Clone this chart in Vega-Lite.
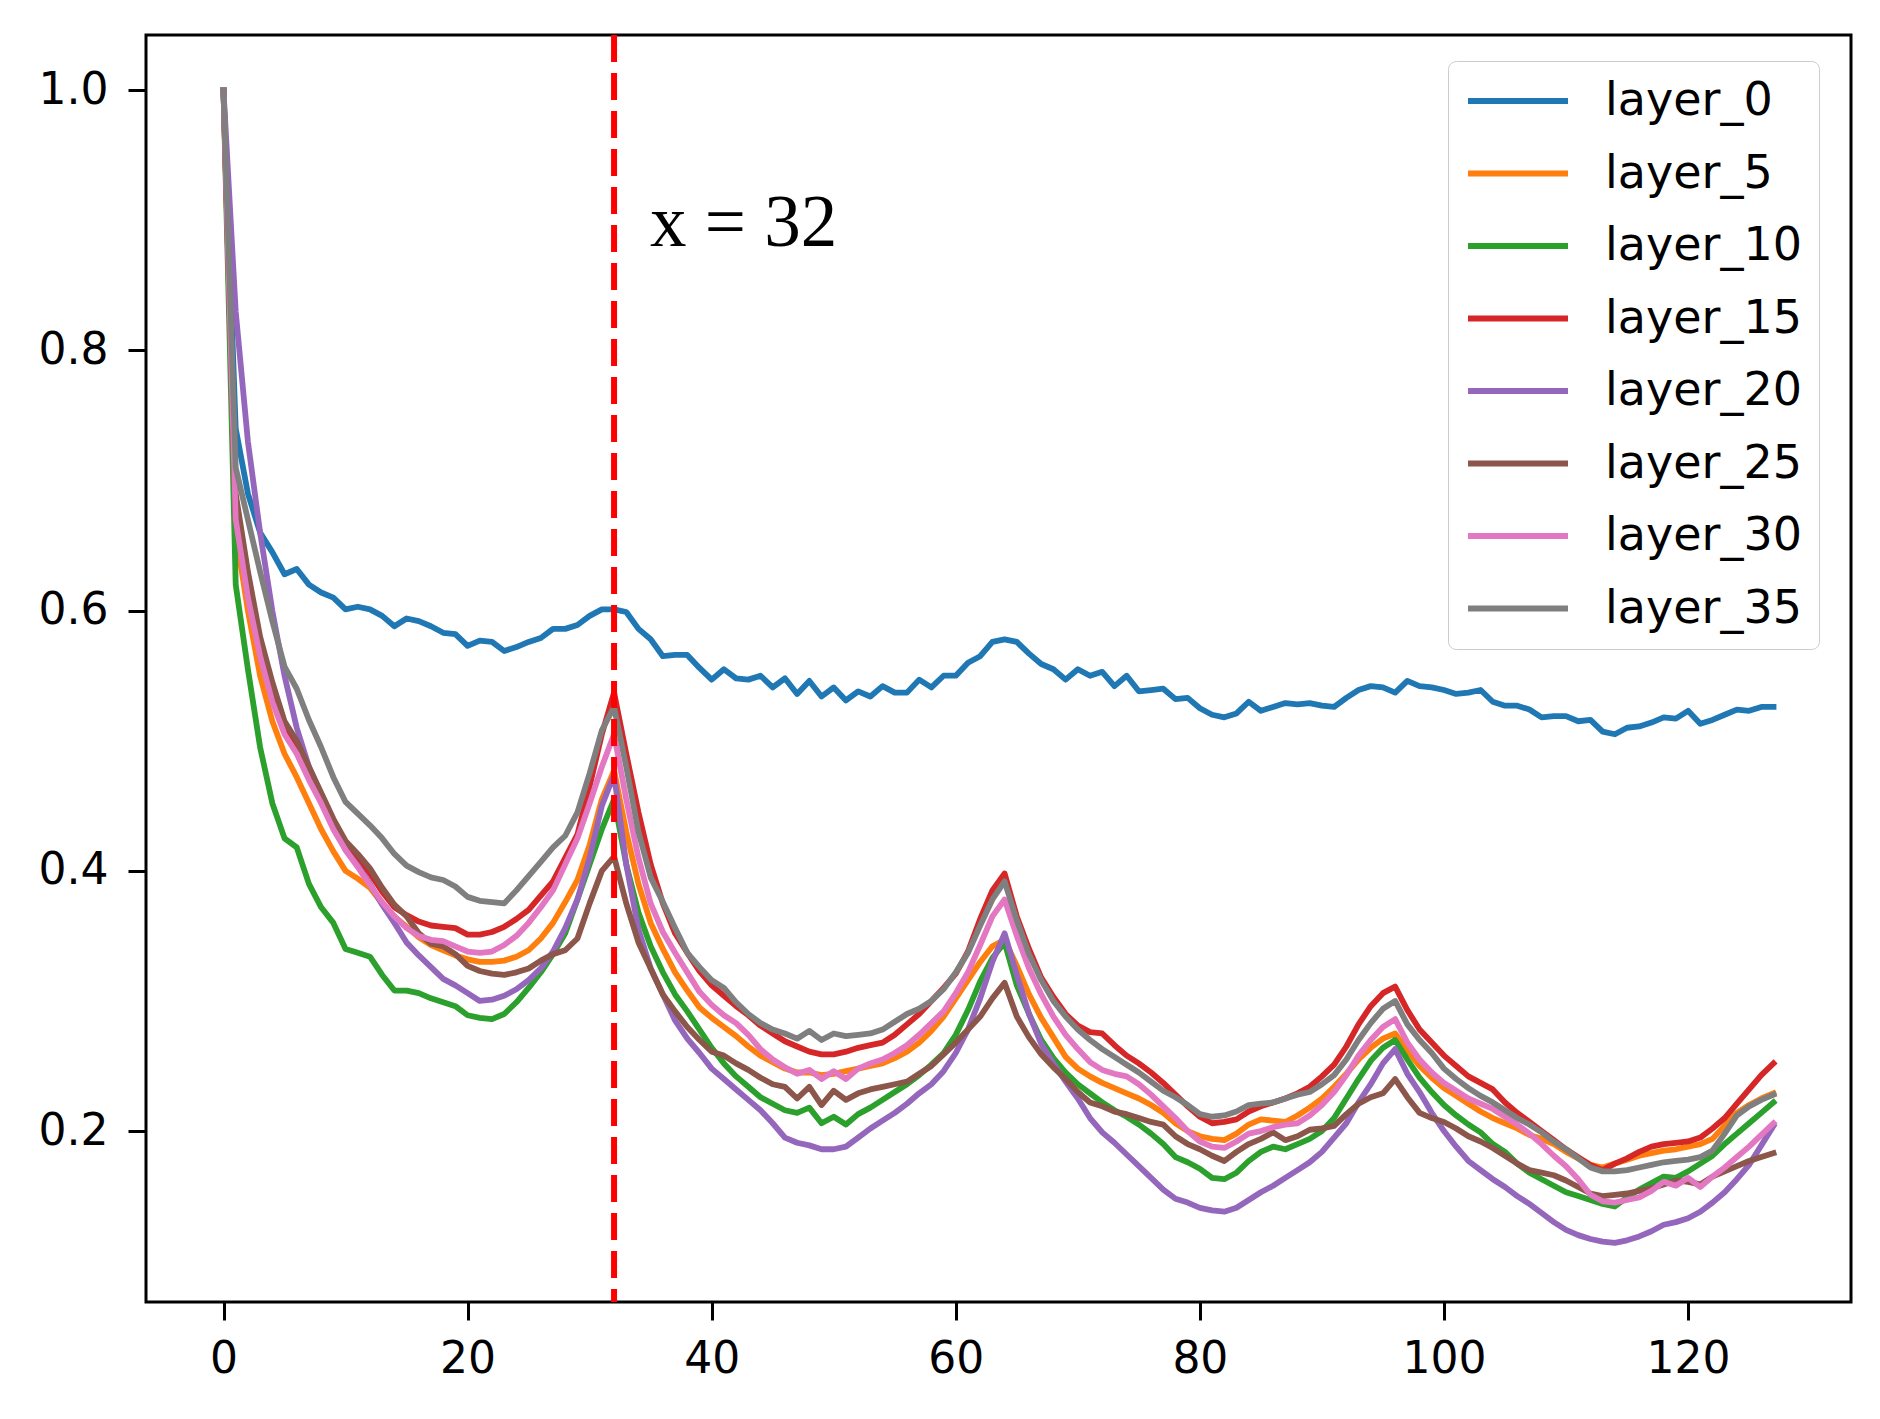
{
  "$schema": "https://vega.github.io/schema/vega-lite/v6.json",
  "width": 1705,
  "height": 1267,
  "autosize": {"type": "none"},
  "padding": {"left": 146, "top": 35, "right": 29, "bottom": 117},
  "background": "white",
  "config": {
    "view": {"stroke": "black", "strokeWidth": 3},
    "axis": {
      "domain": false, "grid": false,
      "tickColor": "black", "tickWidth": 3, "tickSize": 18,
      "labelFont": "DejaVu Sans", "labelFontSize": 44, "labelColor": "black"
    }
  },
  "layer": [
    {
      "data": {"values": [
        {"x":0,"layer_0":1,"layer_5":1,"layer_10":1,"layer_15":1,"layer_20":1,"layer_25":1,"layer_30":1,"layer_35":1},
        {"x":1,"layer_0":0.74,"layer_5":0.66,"layer_10":0.62,"layer_15":0.67,"layer_20":0.83,"layer_25":0.69,"layer_30":0.67,"layer_35":0.71},
        {"x":2,"layer_0":0.69,"layer_5":0.6,"layer_10":0.555,"layer_15":0.615,"layer_20":0.73,"layer_25":0.63,"layer_30":0.61,"layer_35":0.67},
        {"x":3,"layer_0":0.66,"layer_5":0.55,"layer_10":0.495,"layer_15":0.57,"layer_20":0.66,"layer_25":0.58,"layer_30":0.565,"layer_35":0.63},
        {"x":4,"layer_0":0.645,"layer_5":0.515,"layer_10":0.452,"layer_15":0.535,"layer_20":0.6,"layer_25":0.545,"layer_30":0.53,"layer_35":0.592},
        {"x":5,"layer_0":0.628,"layer_5":0.49,"layer_10":0.425,"layer_15":0.51,"layer_20":0.55,"layer_25":0.515,"layer_30":0.505,"layer_35":0.557},
        {"x":6,"layer_0":0.632,"layer_5":0.472,"layer_10":0.418,"layer_15":0.495,"layer_20":0.51,"layer_25":0.5,"layer_30":0.49,"layer_35":0.54},
        {"x":7,"layer_0":0.62,"layer_5":0.452,"layer_10":0.39,"layer_15":0.475,"layer_20":0.48,"layer_25":0.48,"layer_30":0.47,"layer_35":0.516},
        {"x":8,"layer_0":0.614,"layer_5":0.432,"layer_10":0.372,"layer_15":0.455,"layer_20":0.458,"layer_25":0.46,"layer_30":0.452,"layer_35":0.495},
        {"x":9,"layer_0":0.61,"layer_5":0.415,"layer_10":0.36,"layer_15":0.437,"layer_20":0.436,"layer_25":0.44,"layer_30":0.432,"layer_35":0.472},
        {"x":10,"layer_0":0.601,"layer_5":0.4,"layer_10":0.34,"layer_15":0.42,"layer_20":0.416,"layer_25":0.423,"layer_30":0.416,"layer_35":0.453},
        {"x":11,"layer_0":0.603,"layer_5":0.394,"layer_10":0.337,"layer_15":0.41,"layer_20":0.404,"layer_25":0.413,"layer_30":0.403,"layer_35":0.444},
        {"x":12,"layer_0":0.601,"layer_5":0.387,"layer_10":0.334,"layer_15":0.398,"layer_20":0.39,"layer_25":0.402,"layer_30":0.389,"layer_35":0.435},
        {"x":13,"layer_0":0.596,"layer_5":0.375,"layer_10":0.32,"layer_15":0.384,"layer_20":0.374,"layer_25":0.387,"layer_30":0.376,"layer_35":0.425},
        {"x":14,"layer_0":0.588,"layer_5":0.365,"layer_10":0.308,"layer_15":0.372,"layer_20":0.36,"layer_25":0.374,"layer_30":0.365,"layer_35":0.413},
        {"x":15,"layer_0":0.594,"layer_5":0.357,"layer_10":0.308,"layer_15":0.366,"layer_20":0.345,"layer_25":0.365,"layer_30":0.356,"layer_35":0.404},
        {"x":16,"layer_0":0.592,"layer_5":0.349,"layer_10":0.306,"layer_15":0.361,"layer_20":0.335,"layer_25":0.352,"layer_30":0.35,"layer_35":0.399},
        {"x":17,"layer_0":0.588,"layer_5":0.343,"layer_10":0.302,"layer_15":0.358,"layer_20":0.326,"layer_25":0.344,"layer_30":0.347,"layer_35":0.395},
        {"x":18,"layer_0":0.583,"layer_5":0.339,"layer_10":0.299,"layer_15":0.357,"layer_20":0.317,"layer_25":0.342,"layer_30":0.346,"layer_35":0.393},
        {"x":19,"layer_0":0.582,"layer_5":0.335,"layer_10":0.296,"layer_15":0.356,"layer_20":0.312,"layer_25":0.336,"layer_30":0.342,"layer_35":0.388},
        {"x":20,"layer_0":0.573,"layer_5":0.332,"layer_10":0.289,"layer_15":0.351,"layer_20":0.306,"layer_25":0.327,"layer_30":0.338,"layer_35":0.38},
        {"x":21,"layer_0":0.577,"layer_5":0.33,"layer_10":0.287,"layer_15":0.351,"layer_20":0.3,"layer_25":0.323,"layer_30":0.337,"layer_35":0.377},
        {"x":22,"layer_0":0.576,"layer_5":0.33,"layer_10":0.286,"layer_15":0.353,"layer_20":0.301,"layer_25":0.321,"layer_30":0.338,"layer_35":0.376},
        {"x":23,"layer_0":0.569,"layer_5":0.331,"layer_10":0.29,"layer_15":0.357,"layer_20":0.304,"layer_25":0.32,"layer_30":0.343,"layer_35":0.375},
        {"x":24,"layer_0":0.572,"layer_5":0.334,"layer_10":0.299,"layer_15":0.363,"layer_20":0.309,"layer_25":0.322,"layer_30":0.35,"layer_35":0.385},
        {"x":25,"layer_0":0.576,"layer_5":0.339,"layer_10":0.31,"layer_15":0.37,"layer_20":0.316,"layer_25":0.325,"layer_30":0.36,"layer_35":0.396},
        {"x":26,"layer_0":0.579,"layer_5":0.348,"layer_10":0.322,"layer_15":0.381,"layer_20":0.325,"layer_25":0.331,"layer_30":0.372,"layer_35":0.407},
        {"x":27,"layer_0":0.586,"layer_5":0.36,"layer_10":0.336,"layer_15":0.392,"layer_20":0.338,"layer_25":0.336,"layer_30":0.385,"layer_35":0.418},
        {"x":28,"layer_0":0.586,"layer_5":0.376,"layer_10":0.352,"layer_15":0.41,"layer_20":0.356,"layer_25":0.339,"layer_30":0.405,"layer_35":0.427},
        {"x":29,"layer_0":0.589,"layer_5":0.393,"layer_10":0.378,"layer_15":0.428,"layer_20":0.378,"layer_25":0.348,"layer_30":0.425,"layer_35":0.445},
        {"x":30,"layer_0":0.596,"layer_5":0.42,"layer_10":0.405,"layer_15":0.465,"layer_20":0.41,"layer_25":0.375,"layer_30":0.452,"layer_35":0.475},
        {"x":31,"layer_0":0.601,"layer_5":0.455,"layer_10":0.432,"layer_15":0.505,"layer_20":0.45,"layer_25":0.4,"layer_30":0.48,"layer_35":0.508},
        {"x":32,"layer_0":0.601,"layer_5":0.477,"layer_10":0.455,"layer_15":0.537,"layer_20":0.474,"layer_25":0.411,"layer_30":0.505,"layer_35":0.526},
        {"x":33,"layer_0":0.599,"layer_5":0.43,"layer_10":0.405,"layer_15":0.49,"layer_20":0.405,"layer_25":0.375,"layer_30":0.455,"layer_35":0.48},
        {"x":34,"layer_0":0.586,"layer_5":0.39,"layer_10":0.368,"layer_15":0.445,"layer_20":0.355,"layer_25":0.345,"layer_30":0.41,"layer_35":0.43},
        {"x":35,"layer_0":0.578,"layer_5":0.36,"layer_10":0.342,"layer_15":0.405,"layer_20":0.325,"layer_25":0.325,"layer_30":0.375,"layer_35":0.395},
        {"x":36,"layer_0":0.565,"layer_5":0.34,"layer_10":0.322,"layer_15":0.375,"layer_20":0.305,"layer_25":0.305,"layer_30":0.353,"layer_35":0.376},
        {"x":37,"layer_0":0.566,"layer_5":0.322,"layer_10":0.305,"layer_15":0.352,"layer_20":0.285,"layer_25":0.292,"layer_30":0.337,"layer_35":0.356},
        {"x":38,"layer_0":0.566,"layer_5":0.308,"layer_10":0.292,"layer_15":0.337,"layer_20":0.271,"layer_25":0.28,"layer_30":0.322,"layer_35":0.337},
        {"x":39,"layer_0":0.556,"layer_5":0.295,"layer_10":0.278,"layer_15":0.323,"layer_20":0.26,"layer_25":0.27,"layer_30":0.307,"layer_35":0.326},
        {"x":40,"layer_0":0.547,"layer_5":0.287,"layer_10":0.264,"layer_15":0.312,"layer_20":0.248,"layer_25":0.261,"layer_30":0.297,"layer_35":0.316},
        {"x":41,"layer_0":0.555,"layer_5":0.28,"layer_10":0.252,"layer_15":0.304,"layer_20":0.24,"layer_25":0.258,"layer_30":0.289,"layer_35":0.31},
        {"x":42,"layer_0":0.548,"layer_5":0.273,"layer_10":0.242,"layer_15":0.296,"layer_20":0.232,"layer_25":0.252,"layer_30":0.283,"layer_35":0.299},
        {"x":43,"layer_0":0.547,"layer_5":0.265,"layer_10":0.234,"layer_15":0.289,"layer_20":0.224,"layer_25":0.247,"layer_30":0.274,"layer_35":0.29},
        {"x":44,"layer_0":0.55,"layer_5":0.258,"layer_10":0.226,"layer_15":0.281,"layer_20":0.216,"layer_25":0.241,"layer_30":0.263,"layer_35":0.283},
        {"x":45,"layer_0":0.541,"layer_5":0.253,"layer_10":0.221,"layer_15":0.275,"layer_20":0.206,"layer_25":0.236,"layer_30":0.255,"layer_35":0.278},
        {"x":46,"layer_0":0.548,"layer_5":0.248,"layer_10":0.216,"layer_15":0.269,"layer_20":0.195,"layer_25":0.234,"layer_30":0.249,"layer_35":0.275},
        {"x":47,"layer_0":0.536,"layer_5":0.245,"layer_10":0.214,"layer_15":0.265,"layer_20":0.191,"layer_25":0.225,"layer_30":0.244,"layer_35":0.271},
        {"x":48,"layer_0":0.546,"layer_5":0.245,"layer_10":0.218,"layer_15":0.261,"layer_20":0.189,"layer_25":0.234,"layer_30":0.247,"layer_35":0.277},
        {"x":49,"layer_0":0.534,"layer_5":0.243,"layer_10":0.206,"layer_15":0.259,"layer_20":0.186,"layer_25":0.22,"layer_30":0.24,"layer_35":0.27},
        {"x":50,"layer_0":0.541,"layer_5":0.244,"layer_10":0.211,"layer_15":0.259,"layer_20":0.186,"layer_25":0.231,"layer_30":0.246,"layer_35":0.275},
        {"x":51,"layer_0":0.531,"layer_5":0.246,"layer_10":0.205,"layer_15":0.261,"layer_20":0.188,"layer_25":0.224,"layer_30":0.24,"layer_35":0.273},
        {"x":52,"layer_0":0.538,"layer_5":0.248,"layer_10":0.213,"layer_15":0.264,"layer_20":0.195,"layer_25":0.229,"layer_30":0.248,"layer_35":0.274},
        {"x":53,"layer_0":0.534,"layer_5":0.25,"layer_10":0.218,"layer_15":0.266,"layer_20":0.202,"layer_25":0.232,"layer_30":0.252,"layer_35":0.275},
        {"x":54,"layer_0":0.542,"layer_5":0.252,"layer_10":0.224,"layer_15":0.268,"layer_20":0.208,"layer_25":0.234,"layer_30":0.255,"layer_35":0.278},
        {"x":55,"layer_0":0.537,"layer_5":0.256,"layer_10":0.23,"layer_15":0.274,"layer_20":0.214,"layer_25":0.236,"layer_30":0.26,"layer_35":0.284},
        {"x":56,"layer_0":0.537,"layer_5":0.261,"layer_10":0.236,"layer_15":0.282,"layer_20":0.221,"layer_25":0.238,"layer_30":0.266,"layer_35":0.29},
        {"x":57,"layer_0":0.547,"layer_5":0.268,"layer_10":0.243,"layer_15":0.29,"layer_20":0.229,"layer_25":0.244,"layer_30":0.274,"layer_35":0.294},
        {"x":58,"layer_0":0.541,"layer_5":0.277,"layer_10":0.251,"layer_15":0.3,"layer_20":0.236,"layer_25":0.25,"layer_30":0.283,"layer_35":0.3},
        {"x":59,"layer_0":0.55,"layer_5":0.288,"layer_10":0.26,"layer_15":0.31,"layer_20":0.246,"layer_25":0.259,"layer_30":0.292,"layer_35":0.309},
        {"x":60,"layer_0":0.55,"layer_5":0.302,"layer_10":0.274,"layer_15":0.321,"layer_20":0.26,"layer_25":0.268,"layer_30":0.306,"layer_35":0.322},
        {"x":61,"layer_0":0.56,"layer_5":0.316,"layer_10":0.293,"layer_15":0.338,"layer_20":0.278,"layer_25":0.278,"layer_30":0.322,"layer_35":0.337},
        {"x":62,"layer_0":0.565,"layer_5":0.33,"layer_10":0.315,"layer_15":0.363,"layer_20":0.302,"layer_25":0.288,"layer_30":0.343,"layer_35":0.358},
        {"x":63,"layer_0":0.576,"layer_5":0.342,"layer_10":0.333,"layer_15":0.385,"layer_20":0.33,"layer_25":0.302,"layer_30":0.365,"layer_35":0.378},
        {"x":64,"layer_0":0.578,"layer_5":0.347,"layer_10":0.345,"layer_15":0.398,"layer_20":0.352,"layer_25":0.314,"layer_30":0.378,"layer_35":0.392},
        {"x":65,"layer_0":0.576,"layer_5":0.327,"layer_10":0.312,"layer_15":0.365,"layer_20":0.32,"layer_25":0.288,"layer_30":0.35,"layer_35":0.362},
        {"x":66,"layer_0":0.567,"layer_5":0.305,"layer_10":0.29,"layer_15":0.34,"layer_20":0.29,"layer_25":0.272,"layer_30":0.325,"layer_35":0.336},
        {"x":67,"layer_0":0.559,"layer_5":0.287,"layer_10":0.27,"layer_15":0.318,"layer_20":0.267,"layer_25":0.259,"layer_30":0.305,"layer_35":0.316},
        {"x":68,"layer_0":0.555,"layer_5":0.272,"layer_10":0.256,"layer_15":0.303,"layer_20":0.252,"layer_25":0.249,"layer_30":0.288,"layer_35":0.3},
        {"x":69,"layer_0":0.547,"layer_5":0.257,"layer_10":0.245,"layer_15":0.29,"layer_20":0.238,"layer_25":0.24,"layer_30":0.274,"layer_35":0.288},
        {"x":70,"layer_0":0.555,"layer_5":0.248,"layer_10":0.236,"layer_15":0.281,"layer_20":0.225,"layer_25":0.23,"layer_30":0.263,"layer_35":0.278},
        {"x":71,"layer_0":0.55,"layer_5":0.242,"layer_10":0.229,"layer_15":0.276,"layer_20":0.21,"layer_25":0.222,"layer_30":0.253,"layer_35":0.27},
        {"x":72,"layer_0":0.553,"layer_5":0.237,"layer_10":0.222,"layer_15":0.275,"layer_20":0.199,"layer_25":0.219,"layer_30":0.247,"layer_35":0.263},
        {"x":73,"layer_0":0.542,"layer_5":0.233,"layer_10":0.216,"layer_15":0.266,"layer_20":0.191,"layer_25":0.215,"layer_30":0.244,"layer_35":0.257},
        {"x":74,"layer_0":0.55,"layer_5":0.229,"layer_10":0.211,"layer_15":0.258,"layer_20":0.182,"layer_25":0.213,"layer_30":0.242,"layer_35":0.251},
        {"x":75,"layer_0":0.538,"layer_5":0.225,"layer_10":0.205,"layer_15":0.252,"layer_20":0.173,"layer_25":0.21,"layer_30":0.236,"layer_35":0.245},
        {"x":76,"layer_0":0.539,"layer_5":0.22,"layer_10":0.198,"layer_15":0.245,"layer_20":0.164,"layer_25":0.207,"layer_30":0.228,"layer_35":0.238},
        {"x":77,"layer_0":0.54,"layer_5":0.214,"layer_10":0.19,"layer_15":0.237,"layer_20":0.155,"layer_25":0.205,"layer_30":0.219,"layer_35":0.231},
        {"x":78,"layer_0":0.532,"layer_5":0.206,"layer_10":0.18,"layer_15":0.228,"layer_20":0.148,"layer_25":0.196,"layer_30":0.21,"layer_35":0.226},
        {"x":79,"layer_0":0.533,"layer_5":0.2,"layer_10":0.176,"layer_15":0.219,"layer_20":0.145,"layer_25":0.19,"layer_30":0.2,"layer_35":0.22},
        {"x":80,"layer_0":0.525,"layer_5":0.196,"layer_10":0.171,"layer_15":0.211,"layer_20":0.141,"layer_25":0.186,"layer_30":0.192,"layer_35":0.213},
        {"x":81,"layer_0":0.52,"layer_5":0.194,"layer_10":0.164,"layer_15":0.206,"layer_20":0.139,"layer_25":0.181,"layer_30":0.188,"layer_35":0.211},
        {"x":82,"layer_0":0.518,"layer_5":0.193,"layer_10":0.163,"layer_15":0.207,"layer_20":0.138,"layer_25":0.177,"layer_30":0.187,"layer_35":0.212},
        {"x":83,"layer_0":0.521,"layer_5":0.198,"layer_10":0.168,"layer_15":0.209,"layer_20":0.141,"layer_25":0.184,"layer_30":0.192,"layer_35":0.215},
        {"x":84,"layer_0":0.53,"layer_5":0.205,"layer_10":0.177,"layer_15":0.215,"layer_20":0.147,"layer_25":0.19,"layer_30":0.198,"layer_35":0.22},
        {"x":85,"layer_0":0.523,"layer_5":0.209,"layer_10":0.184,"layer_15":0.219,"layer_20":0.153,"layer_25":0.194,"layer_30":0.2,"layer_35":0.221},
        {"x":86,"layer_0":0.526,"layer_5":0.208,"layer_10":0.188,"layer_15":0.222,"layer_20":0.158,"layer_25":0.199,"layer_30":0.203,"layer_35":0.222},
        {"x":87,"layer_0":0.529,"layer_5":0.207,"layer_10":0.186,"layer_15":0.225,"layer_20":0.164,"layer_25":0.193,"layer_30":0.205,"layer_35":0.225},
        {"x":88,"layer_0":0.528,"layer_5":0.212,"layer_10":0.19,"layer_15":0.229,"layer_20":0.17,"layer_25":0.196,"layer_30":0.206,"layer_35":0.228},
        {"x":89,"layer_0":0.529,"layer_5":0.218,"layer_10":0.194,"layer_15":0.234,"layer_20":0.176,"layer_25":0.201,"layer_30":0.212,"layer_35":0.23},
        {"x":90,"layer_0":0.527,"layer_5":0.225,"layer_10":0.2,"layer_15":0.242,"layer_20":0.184,"layer_25":0.202,"layer_30":0.22,"layer_35":0.236},
        {"x":91,"layer_0":0.526,"layer_5":0.234,"layer_10":0.21,"layer_15":0.251,"layer_20":0.195,"layer_25":0.204,"layer_30":0.23,"layer_35":0.243},
        {"x":92,"layer_0":0.533,"layer_5":0.244,"layer_10":0.225,"layer_15":0.265,"layer_20":0.206,"layer_25":0.213,"layer_30":0.243,"layer_35":0.255},
        {"x":93,"layer_0":0.539,"layer_5":0.255,"layer_10":0.24,"layer_15":0.282,"layer_20":0.222,"layer_25":0.221,"layer_30":0.258,"layer_35":0.27},
        {"x":94,"layer_0":0.542,"layer_5":0.264,"layer_10":0.254,"layer_15":0.296,"layer_20":0.236,"layer_25":0.226,"layer_30":0.27,"layer_35":0.283},
        {"x":95,"layer_0":0.541,"layer_5":0.271,"layer_10":0.264,"layer_15":0.306,"layer_20":0.252,"layer_25":0.229,"layer_30":0.28,"layer_35":0.294},
        {"x":96,"layer_0":0.537,"layer_5":0.275,"layer_10":0.27,"layer_15":0.311,"layer_20":0.263,"layer_25":0.24,"layer_30":0.286,"layer_35":0.3},
        {"x":97,"layer_0":0.546,"layer_5":0.262,"layer_10":0.255,"layer_15":0.293,"layer_20":0.244,"layer_25":0.226,"layer_30":0.268,"layer_35":0.282},
        {"x":98,"layer_0":0.542,"layer_5":0.25,"layer_10":0.241,"layer_15":0.278,"layer_20":0.23,"layer_25":0.214,"layer_30":0.255,"layer_35":0.27},
        {"x":99,"layer_0":0.541,"layer_5":0.241,"layer_10":0.23,"layer_15":0.268,"layer_20":0.214,"layer_25":0.21,"layer_30":0.245,"layer_35":0.26},
        {"x":100,"layer_0":0.539,"layer_5":0.233,"layer_10":0.22,"layer_15":0.258,"layer_20":0.2,"layer_25":0.207,"layer_30":0.237,"layer_35":0.248},
        {"x":101,"layer_0":0.536,"layer_5":0.227,"layer_10":0.212,"layer_15":0.25,"layer_20":0.188,"layer_25":0.202,"layer_30":0.231,"layer_35":0.24},
        {"x":102,"layer_0":0.537,"layer_5":0.221,"layer_10":0.205,"layer_15":0.242,"layer_20":0.177,"layer_25":0.196,"layer_30":0.225,"layer_35":0.233},
        {"x":103,"layer_0":0.539,"layer_5":0.215,"layer_10":0.199,"layer_15":0.237,"layer_20":0.17,"layer_25":0.192,"layer_30":0.221,"layer_35":0.227},
        {"x":104,"layer_0":0.53,"layer_5":0.21,"layer_10":0.19,"layer_15":0.232,"layer_20":0.163,"layer_25":0.187,"layer_30":0.217,"layer_35":0.222},
        {"x":105,"layer_0":0.527,"layer_5":0.206,"layer_10":0.184,"layer_15":0.222,"layer_20":0.157,"layer_25":0.181,"layer_30":0.211,"layer_35":0.216},
        {"x":106,"layer_0":0.527,"layer_5":0.202,"layer_10":0.175,"layer_15":0.214,"layer_20":0.15,"layer_25":0.175,"layer_30":0.205,"layer_35":0.21},
        {"x":107,"layer_0":0.524,"layer_5":0.197,"layer_10":0.168,"layer_15":0.207,"layer_20":0.144,"layer_25":0.17,"layer_30":0.198,"layer_35":0.205},
        {"x":108,"layer_0":0.518,"layer_5":0.194,"layer_10":0.163,"layer_15":0.2,"layer_20":0.137,"layer_25":0.168,"layer_30":0.19,"layer_35":0.199},
        {"x":109,"layer_0":0.519,"layer_5":0.19,"layer_10":0.158,"layer_15":0.193,"layer_20":0.13,"layer_25":0.166,"layer_30":0.181,"layer_35":0.192},
        {"x":110,"layer_0":0.519,"layer_5":0.184,"layer_10":0.153,"layer_15":0.186,"layer_20":0.124,"layer_25":0.162,"layer_30":0.173,"layer_35":0.186},
        {"x":111,"layer_0":0.515,"layer_5":0.179,"layer_10":0.15,"layer_15":0.18,"layer_20":0.12,"layer_25":0.157,"layer_30":0.163,"layer_35":0.179},
        {"x":112,"layer_0":0.516,"layer_5":0.174,"layer_10":0.147,"layer_15":0.174,"layer_20":0.117,"layer_25":0.152,"layer_30":0.151,"layer_35":0.172},
        {"x":113,"layer_0":0.507,"layer_5":0.172,"layer_10":0.144,"layer_15":0.17,"layer_20":0.115,"layer_25":0.15,"layer_30":0.146,"layer_35":0.169},
        {"x":114,"layer_0":0.505,"layer_5":0.175,"layer_10":0.142,"layer_15":0.175,"layer_20":0.114,"layer_25":0.151,"layer_30":0.145,"layer_35":0.169},
        {"x":115,"layer_0":0.51,"layer_5":0.178,"layer_10":0.149,"layer_15":0.179,"layer_20":0.116,"layer_25":0.152,"layer_30":0.147,"layer_35":0.17},
        {"x":116,"layer_0":0.511,"layer_5":0.181,"layer_10":0.155,"layer_15":0.184,"layer_20":0.119,"layer_25":0.154,"layer_30":0.149,"layer_35":0.172},
        {"x":117,"layer_0":0.514,"layer_5":0.183,"layer_10":0.16,"layer_15":0.188,"layer_20":0.123,"layer_25":0.156,"layer_30":0.154,"layer_35":0.174},
        {"x":118,"layer_0":0.518,"layer_5":0.185,"layer_10":0.165,"layer_15":0.19,"layer_20":0.128,"layer_25":0.159,"layer_30":0.161,"layer_35":0.176},
        {"x":119,"layer_0":0.517,"layer_5":0.186,"layer_10":0.164,"layer_15":0.191,"layer_20":0.13,"layer_25":0.162,"layer_30":0.158,"layer_35":0.177},
        {"x":120,"layer_0":0.523,"layer_5":0.188,"layer_10":0.169,"layer_15":0.192,"layer_20":0.133,"layer_25":0.161,"layer_30":0.164,"layer_35":0.178},
        {"x":121,"layer_0":0.513,"layer_5":0.19,"layer_10":0.175,"layer_15":0.195,"layer_20":0.138,"layer_25":0.159,"layer_30":0.157,"layer_35":0.18},
        {"x":122,"layer_0":0.516,"layer_5":0.194,"layer_10":0.181,"layer_15":0.202,"layer_20":0.145,"layer_25":0.165,"layer_30":0.165,"layer_35":0.185},
        {"x":123,"layer_0":0.52,"layer_5":0.204,"layer_10":0.19,"layer_15":0.21,"layer_20":0.153,"layer_25":0.169,"layer_30":0.172,"layer_35":0.198},
        {"x":124,"layer_0":0.524,"layer_5":0.214,"layer_10":0.198,"layer_15":0.221,"layer_20":0.163,"layer_25":0.173,"layer_30":0.18,"layer_35":0.212},
        {"x":125,"layer_0":0.523,"layer_5":0.22,"layer_10":0.206,"layer_15":0.232,"layer_20":0.174,"layer_25":0.177,"layer_30":0.188,"layer_35":0.219},
        {"x":126,"layer_0":0.526,"layer_5":0.225,"layer_10":0.214,"layer_15":0.243,"layer_20":0.189,"layer_25":0.18,"layer_30":0.197,"layer_35":0.224},
        {"x":127,"layer_0":0.526,"layer_5":0.229,"layer_10":0.222,"layer_15":0.252,"layer_20":0.204,"layer_25":0.183,"layer_30":0.206,"layer_35":0.228}
      ]},
      "transform": [
        {"fold": ["layer_0","layer_5","layer_10","layer_15","layer_20","layer_25","layer_30","layer_35"], "as": ["layer", "value"]}
      ],
      "mark": {"type": "line", "strokeWidth": 5.8, "strokeJoin": "round", "strokeCap": "square"},
      "encoding": {
        "x": {
          "field": "x", "type": "quantitative",
          "scale": {"domain": [-6.35, 133.35], "nice": false, "zero": false},
          "axis": {"title": null, "values": [0,20,40,60,80,100,120], "labelPadding": 17}
        },
        "y": {
          "field": "value", "type": "quantitative",
          "scale": {"domain": [0.0686, 1.0425], "nice": false, "zero": false},
          "axis": {"title": null, "values": [0.2,0.4,0.6,0.8,1.0], "format": ".1f", "labelPadding": 20}
        },
        "color": {
          "field": "layer", "type": "nominal",
          "scale": {
            "domain": ["layer_0","layer_5","layer_10","layer_15","layer_20","layer_25","layer_30","layer_35"],
            "range": ["#1f77b4","#ff7f0e","#2ca02c","#d62728","#9467bd","#8c564b","#e377c2","#7f7f7f"]
          },
          "legend": {
            "title": null, "orient": "none", "legendX": 1302, "legendY": 26,
            "symbolType": "stroke", "symbolSize": 10000, "symbolStrokeWidth": 5.8, "symbolOpacity": 1,
            "clipHeight": 46,
            "labelFont": "DejaVu Sans", "labelFontSize": 46, "labelColor": "black", "labelOffset": 34, "labelLimit": 400,
            "rowPadding": 26.5, "padding": 17,
            "fillColor": "rgba(255,255,255,0.8)", "strokeColor": "#cccccc", "cornerRadius": 8
          }
        }
      }
    },
    {
      "data": {"values": [{"pos": 32}]},
      "mark": {"type": "rule", "color": "#ff0000", "strokeWidth": 6, "strokeDash": [27, 11]},
      "encoding": {"x": {"field": "pos", "type": "quantitative", "axis": {"title": null}}}
    },
    {
      "data": {"values": [{"tx": 34.95, "ty": 0.88, "label": "x = 32"}]},
      "mark": {"type": "text", "font": "Liberation Serif", "fontSize": 73, "color": "black", "align": "left", "baseline": "alphabetic"},
      "encoding": {
        "x": {"field": "tx", "type": "quantitative", "axis": {"title": null}},
        "y": {"field": "ty", "type": "quantitative", "axis": {"title": null}},
        "text": {"field": "label"}
      }
    }
  ]
}
